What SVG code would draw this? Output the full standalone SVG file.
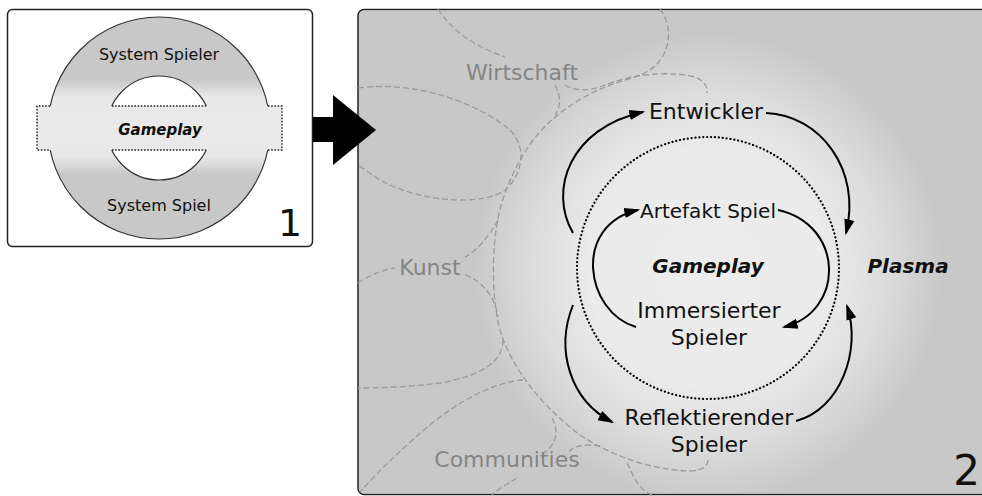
<svg xmlns="http://www.w3.org/2000/svg" width="982" height="496" viewBox="0 0 982 496">
<style>
text{font-family:"DejaVu Sans","Liberation Sans",sans-serif;text-anchor:middle;fill:#111}
.lbl{font-size:22px}
.sm{font-size:16px}
.bi{font-weight:bold;font-style:italic}
.region{font-size:22px;fill:#858585}
.dash{fill:none;stroke:#9a9a9a;stroke-width:1.3;stroke-dasharray:6 3}
.conn{fill:none;stroke:#000;stroke-width:2;marker-end:url(#ah)}
.dot1{fill:none;stroke:#222;stroke-width:1.4;stroke-dasharray:1.6 1.6}
</style>
<defs>
<marker id="ah" markerUnits="userSpaceOnUse" markerWidth="16" markerHeight="12" viewBox="0 0 14 10" refX="12" refY="5" orient="auto">
<path d="M0,0.5 L14,5 L0,9.5 z" fill="#000"/>
</marker>
<linearGradient id="ringG" gradientUnits="userSpaceOnUse" x1="0" y1="17" x2="0" y2="239">
<stop offset="0" stop-color="#c8c8c8"/>
<stop offset="0.28" stop-color="#c8c8c8"/>
<stop offset="0.36" stop-color="#e8e8e8"/>
<stop offset="0.63" stop-color="#e8e8e8"/>
<stop offset="0.71" stop-color="#c8c8c8"/>
<stop offset="1" stop-color="#c8c8c8"/>
</linearGradient>
<radialGradient id="glow" gradientUnits="userSpaceOnUse" cx="708" cy="268" r="235">
<stop offset="0" stop-color="#ededed"/>
<stop offset="0.5" stop-color="#ebebeb"/>
<stop offset="0.75" stop-color="#dcdcdc"/>
<stop offset="1" stop-color="#c8c8c8"/>
</radialGradient>
</defs>

<rect width="982" height="496" fill="#fff"/>

<g id="panel1">
<rect x="7.5" y="9.5" width="305" height="237" rx="5" fill="#fff" stroke="#222" stroke-width="1.5"/>
<path d="M159,17 a111,111 0 1,0 0.01,0 z M159,76 a52,52 0 1,1 -0.01,0 z" fill="url(#ringG)" fill-rule="evenodd"/>
<circle cx="159" cy="128" r="111" fill="none" stroke="#333" stroke-width="1.2"/>
<circle cx="159" cy="128" r="52" fill="none" stroke="#333" stroke-width="1.2"/>
<rect x="37" y="106" width="245" height="44" fill="#e9e9e9"/>
<path class="dot1" d="M50,106 H37 V150 H50 M268,106 H282 V150 H268 M112,106 H206 M112,150 H206"/>
<text class="sm" x="159" y="60">System Spieler</text>
<text class="bi" x="160" y="135" style="font-size:15px">Gameplay</text>
<text class="sm" x="159" y="211">System Spiel</text>
<text x="290" y="236" style="font-size:38px">1</text>
</g>

<g id="panel2">
<rect x="358" y="9.5" width="640" height="485" rx="6" fill="#c8c8c8" stroke="#222" stroke-width="1.5"/>
<rect x="359" y="10.5" width="640" height="483" rx="5" fill="url(#glow)"/>
</g>

<g id="regions">
<path class="dash" d="M438,9 C455,35 480,48 505,57"/>
<path class="dash" d="M358,88 C420,80 480,105 510,130 C528,148 522,175 505,190 C485,205 430,203 390,185 C375,178 366,170 358,165"/>
<path class="dash" d="M555,85 C562,98 560,108 555,115"/>
<path class="dash" d="M565,85 C575,92 592,91 605,85 C630,75 665,70 695,77 C705,81 708,88 707,93"/>
<path class="dash" d="M660,9 C672,25 672,50 655,66 C648,72 640,76 625,80 C585,92 550,115 528,147 C512,172 500,200 496,230 C492,260 492,300 500,330 C510,365 540,405 580,435 C610,455 650,470 690,471 C702,471 708,466 708,460"/>
<path class="dash" d="M498,220 C490,235 478,250 465,257"/>
<path class="dash" d="M358,283 C370,275 382,270 395,268"/>
<path class="dash" d="M465,275 C480,280 495,295 498,317"/>
<path class="dash" d="M503,340 C503,360 485,375 440,383 C410,387 380,388 358,388"/>
<path class="dash" d="M523,380 C495,382 460,400 430,425 C400,450 375,475 360,492"/>
<path class="dash" d="M552,418 C560,432 556,447 540,455"/>
<path class="dash" d="M569,452 C572,446 585,444 600,446"/>
<path class="dash" d="M627,463 C633,473 635,487 652,495"/>
<path class="dash" d="M517,478 C507,484 498,489 492,495"/>
<text class="region" x="522" y="80">Wirtschaft</text>
<text class="region" x="430" y="275">Kunst</text>
<text class="region" x="507" y="467">Communities</text>
</g>

<g id="gameplay-circle">
<circle cx="708" cy="268" r="131" fill="none" stroke="#000" stroke-width="2.2" stroke-linecap="round" stroke-dasharray="0.1 3.8"/>
<text class="bi" x="708" y="273" style="font-size:20px">Gameplay</text>
</g>

<g id="plasma"><text class="bi" x="908" y="273" style="font-size:20px">Plasma</text></g>
<g id="entwickler"><text class="lbl" x="706" y="119">Entwickler</text></g>
<g id="artefakt"><text class="lbl" x="708" y="218" style="font-size:20px">Artefakt Spiel</text></g>
<g id="immersierter"><text class="lbl" x="709" y="318">Immersierter</text><text class="lbl" x="709" y="345">Spieler</text></g>
<g id="reflektierender"><text class="lbl" x="709" y="425">Reflektierender</text><text class="lbl" x="709" y="452">Spieler</text></g>
<g id="label2"><text x="980" y="485" style="font-size:42px;text-anchor:end">2</text></g>

<g id="connectors">
<path class="conn" d="M573,233 C548,190 570,128 643,112"/>
<path class="conn" d="M766,113 C820,115 862,170 846,233"/>
<path class="conn" d="M636,327 C585,312 572,225 638,210"/>
<path class="conn" d="M778,210 C845,225 845,312 784,327"/>
<path class="conn" d="M573,305 C555,350 570,400 612,422"/>
<path class="conn" d="M796,421 C840,410 862,350 847,306"/>
</g>

<g id="transition-arrow">
<polygon points="313,117 333,117 333,95 376,130 333,165 333,142 313,142" fill="#000"/>
</g>
</svg>
